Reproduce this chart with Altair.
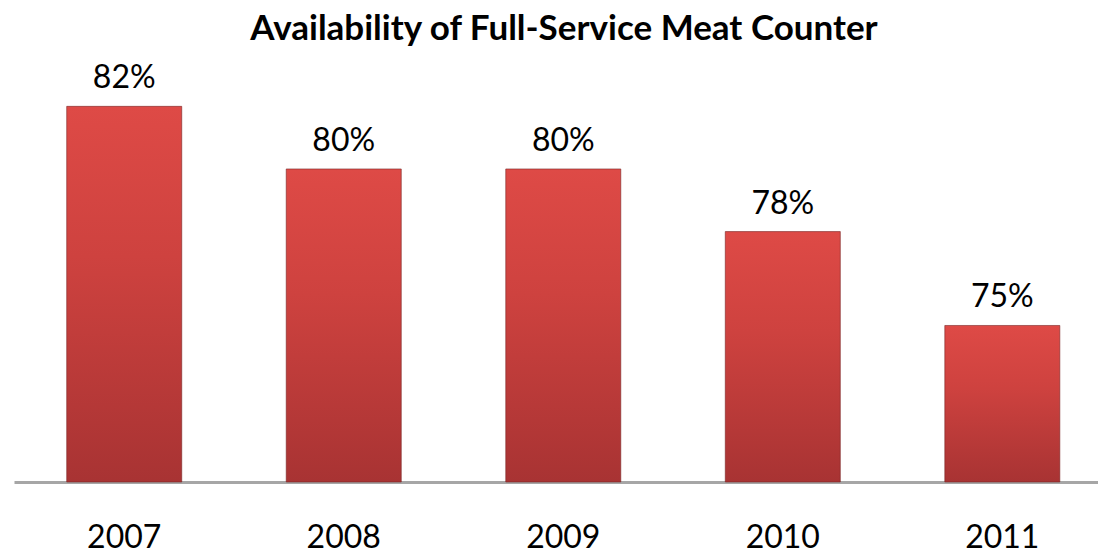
import altair as alt
import pandas as pd

years = ["2007", "2008", "2009", "2010", "2011"]
values = [82, 80, 80, 78, 75]
labels = ["82%", "80%", "80%", "78%", "75%"]
base_value = 70

df = pd.DataFrame({"year": years, "value": values, "label": labels})

FONT = "Lato"

x_enc = alt.X(
    "year:N",
    sort=years,
    title=None,
    scale=alt.Scale(paddingInner=0.476, paddingOuter=0.207, align=0.58),
    axis=alt.Axis(
        labelFont=FONT,
        labelFontSize=32,
        labelColor="#000000",
        labelAngle=0,
        labelBaseline="alphabetic",
        labelPadding=65,
        ticks=False,
        tickSize=0,
        domainColor="#A6A6A6",
        domainWidth=3,
        grid=False,
    ),
)
y_enc = alt.Y(
    "value:Q",
    scale=alt.Scale(domain=[70, 83.8], zero=False, nice=False),
    axis=None,
)

grad = alt.LinearGradient(
    gradient="linear",
    x1=0, x2=0, y1=0, y2=1,
    stops=[
        alt.GradientStop(color="#DE4A46", offset=0),
        alt.GradientStop(color="#CE423F", offset=0.4),
        alt.GradientStop(color="#A83333", offset=1),
    ],
)

bars = alt.Chart(df).mark_bar(
    color=grad, stroke="#7A2424", strokeWidth=1, strokeOpacity=0.6
).encode(x=x_enc, y=y_enc, y2=alt.datum(base_value))

text = alt.Chart(df).mark_text(
    baseline="alphabetic", dy=-18, fontSize=32, font=FONT, color="#000000"
).encode(x=alt.X("year:N", sort=years), y=y_enc, text="label:N")

chart = (
    alt.layer(bars, text)
    .properties(
        width=1084,
        height=432,
        background="#FFFFFF",
        padding={"left": 14, "top": 50, "right": 0, "bottom": 73},
        autosize=alt.AutoSizeParams(type="none"),
        title=alt.TitleParams(
            "Availability of Full-Service Meat Counter",
            font=FONT,
            fontSize=35,
            fontWeight="bold",
            color="#000000",
            anchor="middle",
            frame="group",
            offset=3,
            dx=8,
        ),
    )
    .configure_view(strokeWidth=0, stroke=None)
)

chart.save("out.html", embed_options={"renderer": "svg", "actions": False})
